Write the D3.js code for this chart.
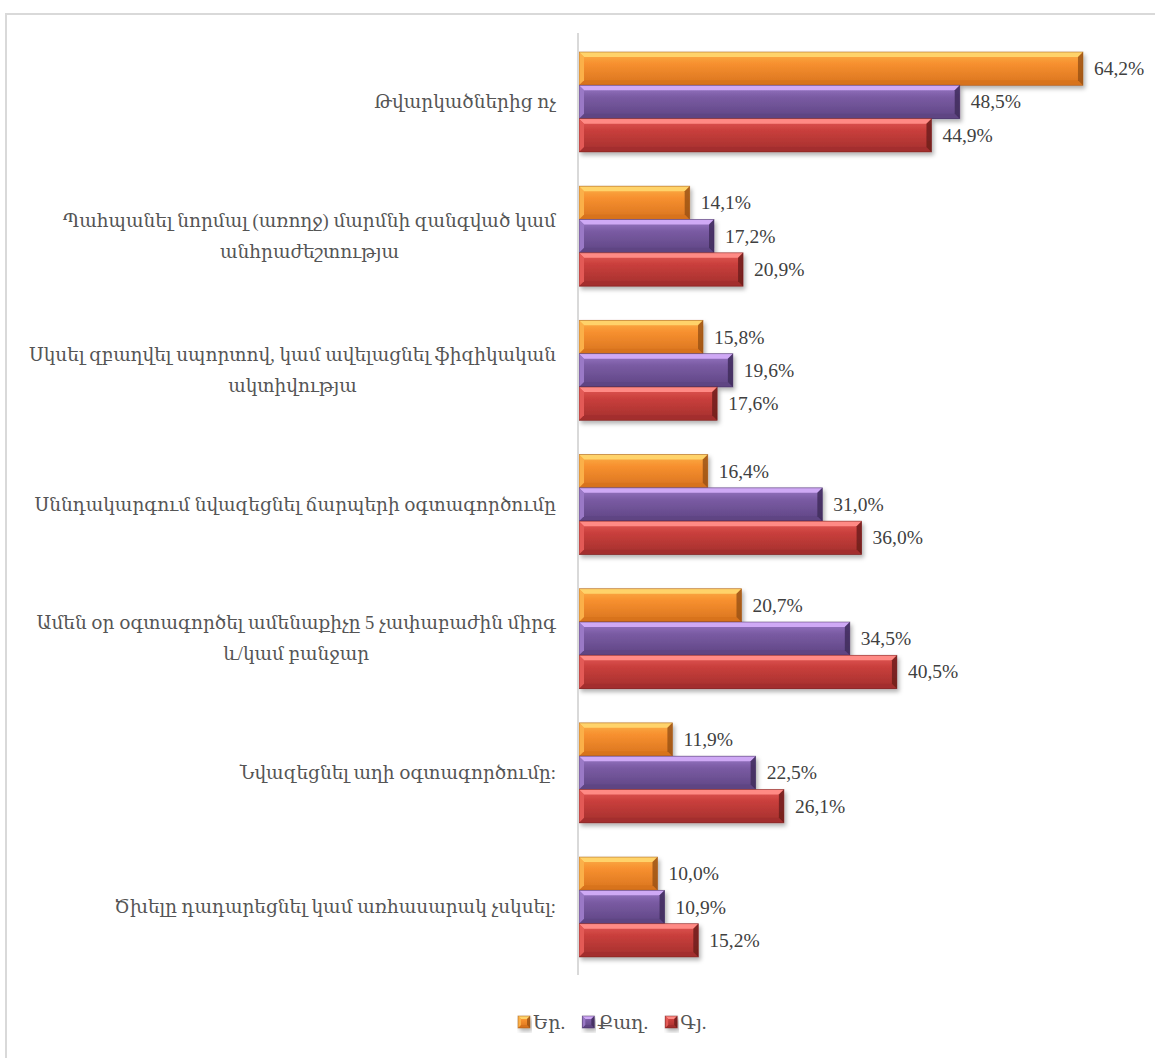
<!DOCTYPE html>
<html>
<head>
<meta charset="utf-8">
<script src="https://cdn.jsdelivr.net/npm/d3@7"></script>
<style>
  html, body { margin: 0; padding: 0; background: #fff; }
  svg { display: block; }
  text { font-family: "Liberation Serif", "DejaVu Serif", "DejaVu Sans", serif; fill: #404040; }
</style>
</head>
<body>
<svg id="chart" width="1155" height="1058"></svg>
<script>
// Categories (top to bottom); "\n" splits a label into lines
const categories = [
  "Թվարկածներից ոչ",
  "Պահպանել նորմալ (առողջ) մարմնի զանգված կամ\nանհրաժեշտությա",
  "Սկսել զբաղվել սպորտով, կամ ավելացնել ֆիզիկական\nակտիվությա",
  "Սննդակարգում նվազեցնել ճարպերի օգտագործումը",
  "Ամեն օր օգտագործել ամենաքիչը 5 չափաբաժին միրգ\nև/կամ բանջար",
  "Նվազեցնել աղի օգտագործումը:",
  "Ծխելը դադարեցնել կամ առհասարակ չսկսել:"
];
const seriesNames = ["Եր.", "Քաղ.", "Գյ."];
const valuesEr   = [64.2, 14.1, 15.8, 16.4, 20.7, 11.9, 10.0];
const valuesQagh = [48.5, 17.2, 19.6, 31.0, 34.5, 22.5, 10.9];
const valuesGy   = [44.9, 20.9, 17.6, 36.0, 40.5, 26.1, 15.2];

// Bevel palette per series: light edge, mid body, dark edge, darkest end
const palettes = [
  { light: "#ffd36a", top: "#fbb048", mid: "#f7902f", bot: "#d8731f", dark: "#9c5416" },
  { light: "#cfa9f5", top: "#9a79c6", mid: "#7a5ba3", bot: "#5e4583", dark: "#3f2c5c" },
  { light: "#ff8a85", top: "#e35a56", mid: "#c93f3c", bot: "#a32f2d", dark: "#6f1d1c" }
];

const seriesValues = [valuesEr, valuesQagh, valuesGy];
const rows = categories.map((c, i) => ({
  cat: c,
  vals: seriesValues.map((arr, s) => ({ s, v: arr[i] }))
}));

const svg = d3.select("#chart");
const defs = svg.append("defs");

// Soft drop shadow under each bar
const sh = defs.append("filter").attr("id", "shadow")
  .attr("x", "-5%").attr("y", "-20%").attr("width", "115%").attr("height", "160%");
sh.append("feDropShadow").attr("dx", 2).attr("dy", 3).attr("stdDeviation", 2)
  .attr("flood-color", "#000").attr("flood-opacity", 0.3);

// Vertical body gradients
palettes.forEach((p, i) => {
  const g = defs.append("linearGradient").attr("id", "body" + i)
    .attr("x1", 0).attr("y1", 0).attr("x2", 0).attr("y2", 1);
  g.append("stop").attr("offset", "0%").attr("stop-color", p.top);
  g.append("stop").attr("offset", "35%").attr("stop-color", p.mid);
  g.append("stop").attr("offset", "100%").attr("stop-color", p.bot);
});

// Chart frame
svg.append("rect").attr("x", 6).attr("y", 14).attr("width", 1200).attr("height", 1100)
  .attr("fill", "none").attr("stroke", "#d9d9d9").attr("stroke-width", 2);

const plot = { left: 579, top: 33, bottom: 975 };
const x = d3.scaleLinear().domain([0, 70]).range([plot.left, plot.left + 70 * 7.85]);
const y = d3.scaleBand().domain(d3.range(categories.length))
  .range([52, 957]).paddingInner(0.255).paddingOuter(0);
const ySub = d3.scaleBand().domain([0, 1, 2]).range([0, y.bandwidth()]);

// Draws a bevelled bar between x0..x1, y0..y1
function bevelBar(sel, x0, x1, y0, y1, p, idx, b) {
  const g = sel.append("g").attr("filter", "url(#shadow)");
  g.append("rect").attr("x", x0).attr("y", y0).attr("width", Math.max(0, x1 - x0)).attr("height", y1 - y0)
    .attr("fill", `url(#body${idx})`);
  const poly = pts => pts.map(q => q.join(",")).join(" ");
  g.append("polygon").attr("points", poly([[x0, y0], [x1, y0], [x1 - b, y0 + b], [x0 + b, y0 + b]]))
    .attr("fill", p.light);
  g.append("polygon").attr("points", poly([[x0, y1], [x1, y1], [x1 - b, y1 - b], [x0 + b, y1 - b]]))
    .attr("fill", p.bot);
  g.append("polygon").attr("points", poly([[x0, y0], [x0 + b, y0 + b], [x0 + b, y1 - b], [x0, y1]]))
    .attr("fill", p.top);
  g.append("polygon").attr("points", poly([[x1, y0], [x1 - b, y0 + b], [x1 - b, y1 - b], [x1, y1]]))
    .attr("fill", p.dark).attr("fill-opacity", 0.85);
  g.append("rect").attr("x", x0).attr("y", y0).attr("width", Math.max(0, x1 - x0)).attr("height", y1 - y0)
    .attr("fill", "none").attr("stroke", p.dark).attr("stroke-opacity", 0.6).attr("stroke-width", 0.8);
}

const fmt = v => d3.format(".1f")(v).replace(".", ",") + "%";

// Bars and value labels
rows.forEach((r, i) => {
  const gy = y(i);
  r.vals.forEach(d => {
    const y0 = gy + ySub(d.s), y1 = y0 + ySub.bandwidth();
    bevelBar(svg, x(0), x(d.v), y0, y1, palettes[d.s], d.s, 5);
    svg.append("text").attr("x", x(d.v) + 11).attr("y", (y0 + y1) / 2)
      .attr("dominant-baseline", "central").attr("font-size", 19.5).text(fmt(d.v));
  });
});

// Vertical category axis line
svg.append("line").attr("x1", plot.left - 1).attr("x2", plot.left - 1)
  .attr("y1", plot.top).attr("y2", plot.bottom).attr("stroke", "#d9d9d9").attr("stroke-width", 2);

// Category labels: block right-aligned to the axis, lines centred within the block
const labelRight = 556, lineH = 31;
rows.forEach((r, i) => {
  const lines = r.cat.split("\n");
  const t = svg.append("text").attr("font-size", 18.5).attr("text-anchor", "middle")
    .style("fill", "#555");
  const spans = lines.map(l => t.append("tspan").text(l));
  const w = d3.max(spans, s => s.node().getComputedTextLength());
  const cx = labelRight - w / 2;
  const cy = y(i) + y.bandwidth() / 2;
  spans.forEach((s, k) => {
    s.attr("x", cx).attr("y", cy + (k - (lines.length - 1) / 2) * lineH).attr("dominant-baseline", "central");
  });
});

// Legend
const legend = svg.append("g").attr("transform", "translate(0,1022)");
let lx = 518;
seriesNames.forEach((n, s) => {
  bevelBar(legend, lx, lx + 12, -6, 6, palettes[s], s, 3);
  const t = legend.append("text").attr("x", lx + 15).attr("y", 0).attr("dominant-baseline", "central")
    .attr("font-size", 19).style("fill", "#555").text(n);
  lx += 15 + t.node().getComputedTextLength() + 17;
});
</script>
</body>
</html>
